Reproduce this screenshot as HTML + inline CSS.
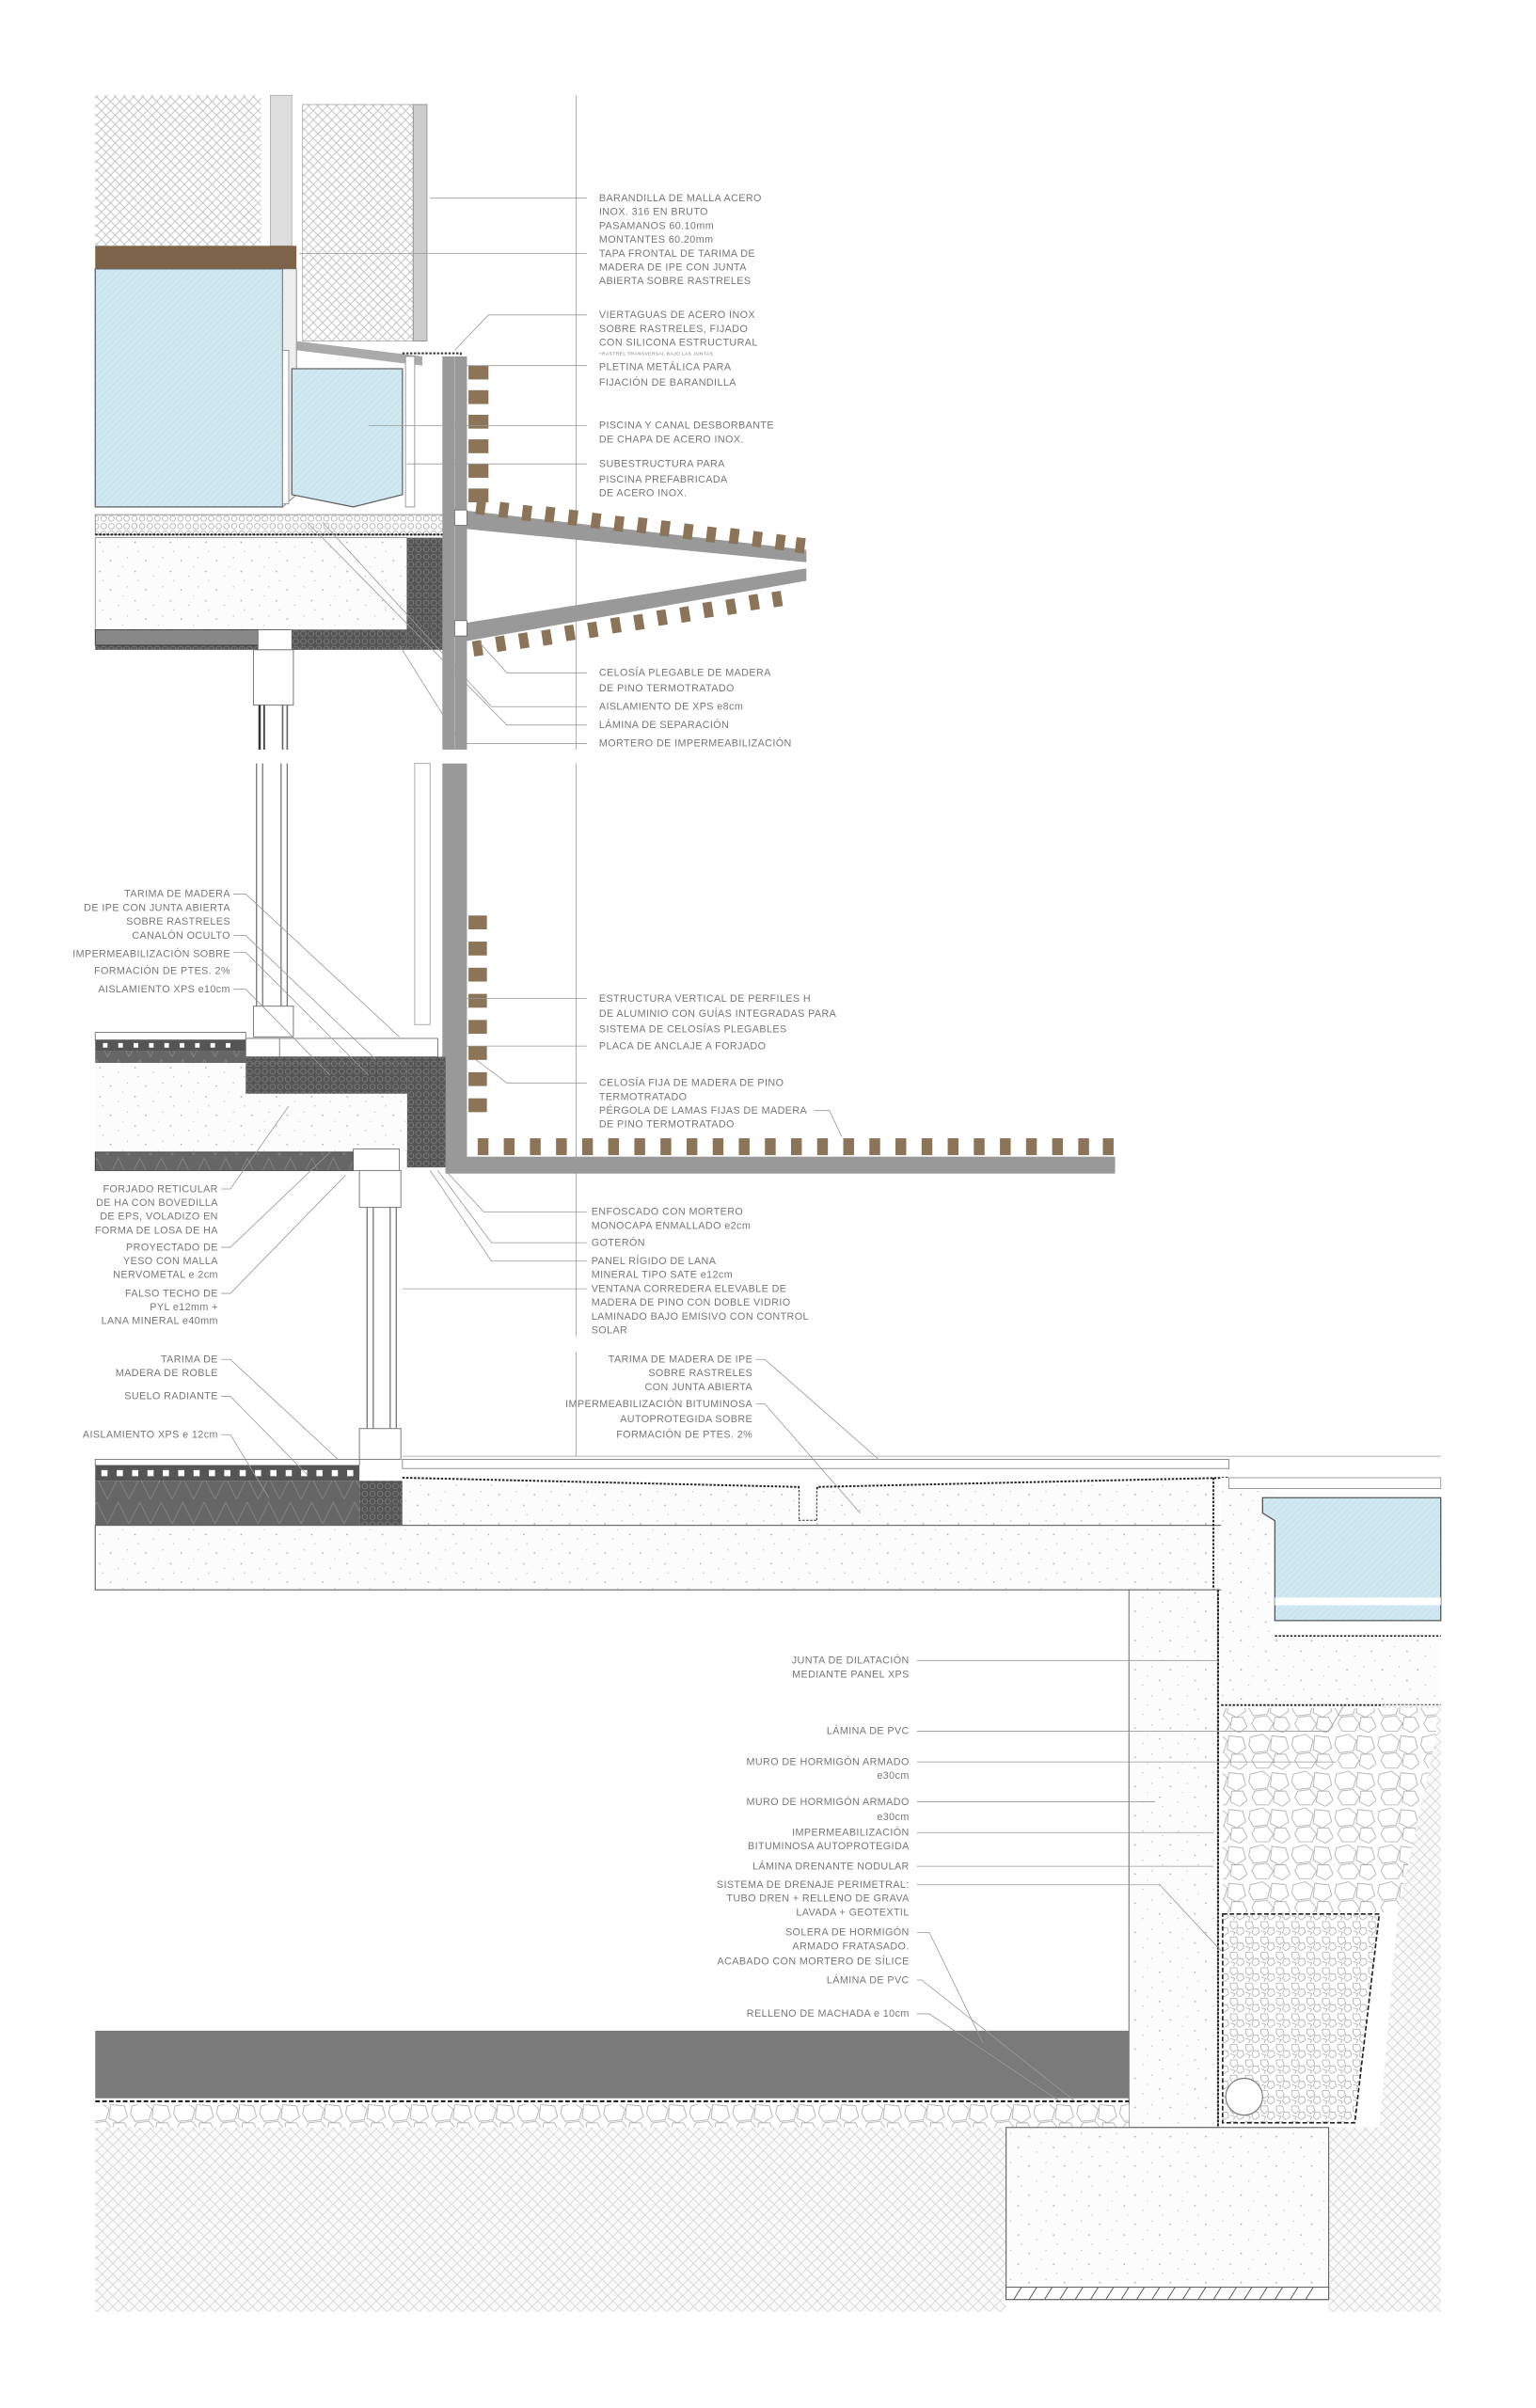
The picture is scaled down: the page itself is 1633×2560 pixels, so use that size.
<!DOCTYPE html>
<html><head><meta charset="utf-8"><style>
html,body{margin:0;padding:0;background:#fff}
svg{display:block}
text{font-family:"Liberation Sans",sans-serif;font-size:6.6px;fill:#777;letter-spacing:.25px}
.e{text-anchor:end}
.l{stroke:#999;stroke-width:.5;fill:none}
</style></head><body>
<svg width="1633" height="2560" viewBox="0 0 1000 1567.6" xmlns="http://www.w3.org/2000/svg">
<defs>
<pattern id="mesh" width="6" height="6" patternUnits="userSpaceOnUse"><rect width="6" height="6" fill="#fff"/><path d="M0 0L6 6M6 0L0 6" stroke="#bbb" stroke-width=".5"/></pattern>
<pattern id="soil" width="7" height="7" patternUnits="userSpaceOnUse"><rect width="7" height="7" fill="#fafafa"/><path d="M0 0L7 7M7 0L0 7" stroke="#ccc" stroke-width=".4"/></pattern>
<pattern id="conc" width="23" height="19" patternUnits="userSpaceOnUse"><rect width="23" height="19" fill="#fcfcfc"/><circle cx="3" cy="4" r=".5" fill="#aaa"/><circle cx="14" cy="2" r=".4" fill="#bbb"/><circle cx="19" cy="11" r=".5" fill="#aaa"/><circle cx="8" cy="14" r=".4" fill="#bbb"/><circle cx="11" cy="8" r=".3" fill="#aaa"/><circle cx="21" cy="17" r=".4" fill="#bbb"/></pattern>
<pattern id="hex" width="5" height="5" patternUnits="userSpaceOnUse"><rect width="5" height="5" fill="#555"/><circle cx="2.5" cy="2.5" r="1.8" fill="none" stroke="#888" stroke-width=".4"/></pattern>
<pattern id="hexl" width="5" height="5" patternUnits="userSpaceOnUse"><rect width="5" height="5" fill="#fff"/><circle cx="2.5" cy="2.5" r="1.8" fill="none" stroke="#999" stroke-width=".4"/></pattern>
<pattern id="water" width="4" height="4" patternUnits="userSpaceOnUse"><rect width="4" height="4" fill="#cfe8f1"/><path d="M0 4L4 0" stroke="#bfdde9" stroke-width=".4"/></pattern>
<pattern id="stone" width="28" height="24" patternUnits="userSpaceOnUse"><rect width="28" height="24" fill="#fff"/><path d="M2 3l8-2 5 4-2 7-9 1-3-5zM16 2l9 1 2 7-6 4-6-3zM5 14l8-1 4 5-3 5-8 0-3-5zM18 14l7 0 3 6-5 4-6-3z" fill="none" stroke="#aaa" stroke-width=".5"/></pattern>
<pattern id="grav" width="10" height="10" patternUnits="userSpaceOnUse"><rect width="10" height="10" fill="#fff"/><path d="M1 1l4 0 1 3-3 2-2-2zM6 5l3 0 1 3-3 2-2-2zM1 7l3 1-1 2" fill="none" stroke="#999" stroke-width=".4"/></pattern>
<pattern id="zig" width="14" height="16" patternUnits="userSpaceOnUse"><rect width="14" height="16" fill="#666"/><path d="M0 16L7 2L14 16" fill="none" stroke="#888" stroke-width=".5"/></pattern>
</defs>

<!-- guide lines -->
<line x1="375" y1="62" x2="375" y2="488" class="l"/>
<line x1="375" y1="497" x2="375" y2="870" class="l"/>
<line x1="375" y1="880" x2="375" y2="948" class="l"/>
<line x1="262" y1="948" x2="938" y2="948" class="l"/>

<!-- top railing meshes -->
<rect x="62" y="62" width="108" height="98" fill="url(#mesh)"/>
<rect x="176" y="62" width="14" height="98" fill="#ddd" stroke="#aaa" stroke-width=".5"/>
<rect x="197" y="68" width="72" height="154" fill="url(#mesh)" stroke="#aaa" stroke-width=".5"/>
<rect x="269" y="68" width="9" height="154" fill="#ccc" stroke="#888" stroke-width=".5"/>
<rect x="62" y="160" width="131" height="15" fill="#7d6448"/>
<!-- pools -->
<rect x="62" y="175" width="122" height="155" fill="url(#water)" stroke="#666" stroke-width=".8"/>
<path d="M184 175L193 175L193 322L184 330Z" fill="#eee" stroke="#777" stroke-width=".5"/>
<path d="M193 222L275 232L275 238L193 228Z" fill="#aaa"/>
<path d="M190 240L262 240L262 322L230 330L190 322Z" fill="url(#water)" stroke="#666" stroke-width=".8"/>
<rect x="184" y="228" width="4" height="100" fill="#fff" stroke="#888" stroke-width=".5"/>
<rect x="264" y="232" width="6" height="98" fill="#fff" stroke="#888" stroke-width=".5"/>
<path d="M262 230L300 230L300 340" fill="none" stroke="#333" stroke-width="1.2" stroke-dasharray="1.5 1"/>
<!-- pool slab -->
<rect x="62" y="335" width="228" height="13" fill="url(#hexl)" stroke="#777" stroke-width=".5"/>
<line x1="62" y1="348" x2="290" y2="348" stroke="#222" stroke-width="1.3" stroke-dasharray="1.5 1"/>
<rect x="62" y="350" width="203" height="60" fill="url(#conc)" stroke="#888" stroke-width=".5"/>
<rect x="265" y="350" width="25" height="73" fill="url(#hex)"/>
<rect x="62" y="410" width="203" height="13" fill="url(#hex)"/>
<rect x="62" y="410" width="125" height="10" fill="#888" stroke="#333" stroke-width=".5"/>
<rect x="168" y="410" width="22" height="13" fill="#fff" stroke="#666" stroke-width=".5"/>
<!-- upper window -->
<rect x="165" y="423" width="26" height="36" fill="#fff" stroke="#777" stroke-width=".6"/>
<line x1="169" y1="459" x2="169" y2="488" stroke="#333" stroke-width="1.5"/>
<line x1="172" y1="459" x2="172" y2="488" stroke="#333" stroke-width="1"/>
<line x1="184" y1="459" x2="184" y2="488" stroke="#666" stroke-width="1"/>
<line x1="187" y1="459" x2="187" y2="488" stroke="#666" stroke-width="1"/>

<!-- main column -->
<rect x="288" y="232" width="16" height="256" fill="#999"/>
<rect x="288" y="497" width="16" height="262" fill="#999"/>
<line x1="296" y1="232" x2="296" y2="488" stroke="#bbb" stroke-width=".4"/>
<!-- vertical slats top -->
<g fill="#8b7458">
<rect x="305" y="238" width="13" height="9"/><rect x="305" y="254" width="13" height="9"/><rect x="305" y="270" width="13" height="9"/><rect x="305" y="286" width="13" height="9"/><rect x="305" y="302" width="13" height="9"/><rect x="305" y="318" width="13" height="9"/>
</g>
<!-- folding louvers -->
<path d="M300 332L525 358L525 366L300 344Z" fill="#999"/>
<path d="M300 406L525 370L525 378L300 418Z" fill="#999"/>
<rect x="296" y="332" width="8" height="10" fill="#fff" stroke="#666" stroke-width=".5"/>
<rect x="296" y="404" width="8" height="10" fill="#fff" stroke="#666" stroke-width=".5"/>
<g fill="#8b7458">
<rect x="310" y="325" width="6" height="10" transform="rotate(7 313 330)"/><rect x="325" y="327" width="6" height="10" transform="rotate(7 328 332)"/><rect x="340" y="329" width="6" height="10" transform="rotate(7 343 334)"/><rect x="355" y="330" width="6" height="10" transform="rotate(7 358 335)"/><rect x="370" y="332" width="6" height="10" transform="rotate(7 373 337)"/><rect x="385" y="334" width="6" height="10" transform="rotate(7 388 339)"/><rect x="400" y="336" width="6" height="10" transform="rotate(7 403 341)"/><rect x="415" y="337" width="6" height="10" transform="rotate(7 418 342)"/><rect x="430" y="339" width="6" height="10" transform="rotate(7 433 344)"/><rect x="445" y="341" width="6" height="10" transform="rotate(7 448 346)"/><rect x="460" y="343" width="6" height="10" transform="rotate(7 463 348)"/><rect x="475" y="344" width="6" height="10" transform="rotate(7 478 349)"/><rect x="490" y="346" width="6" height="10" transform="rotate(7 493 351)"/><rect x="505" y="348" width="6" height="10" transform="rotate(7 508 353)"/><rect x="518" y="350" width="6" height="10" transform="rotate(7 521 355)"/>
<rect x="308" y="417" width="6" height="10" transform="rotate(-9 311 422)"/><rect x="323" y="414" width="6" height="10" transform="rotate(-9 326 419)"/><rect x="338" y="412" width="6" height="10" transform="rotate(-9 341 417)"/><rect x="353" y="410" width="6" height="10" transform="rotate(-9 356 415)"/><rect x="368" y="407" width="6" height="10" transform="rotate(-9 371 412)"/><rect x="383" y="405" width="6" height="10" transform="rotate(-9 386 410)"/><rect x="398" y="402" width="6" height="10" transform="rotate(-9 401 407)"/><rect x="413" y="400" width="6" height="10" transform="rotate(-9 416 405)"/><rect x="428" y="397" width="6" height="10" transform="rotate(-9 431 402)"/><rect x="443" y="395" width="6" height="10" transform="rotate(-9 446 400)"/><rect x="458" y="392" width="6" height="10" transform="rotate(-9 461 397)"/><rect x="473" y="390" width="6" height="10" transform="rotate(-9 476 395)"/><rect x="488" y="387" width="6" height="10" transform="rotate(-9 491 392)"/><rect x="503" y="385" width="6" height="10" transform="rotate(-9 506 390)"/>
</g>

<!-- middle window -->
<line x1="167" y1="497" x2="167" y2="660" stroke="#777" stroke-width=".8"/>
<line x1="171" y1="497" x2="171" y2="660" stroke="#777" stroke-width=".8"/>
<line x1="183" y1="497" x2="183" y2="660" stroke="#777" stroke-width=".8"/>
<line x1="187" y1="497" x2="187" y2="660" stroke="#777" stroke-width=".8"/>
<rect x="270" y="497" width="10" height="170" fill="#fff" stroke="#999" stroke-width=".5"/>
<rect x="165" y="655" width="26" height="20" fill="#fff" stroke="#777" stroke-width=".6"/>
<!-- middle slab -->
<rect x="62" y="672" width="98" height="5" fill="#fff" stroke="#666" stroke-width=".5"/>
<rect x="62" y="677" width="98" height="7" fill="#555"/>
<g fill="#fff"><rect x="67" y="679" width="3" height="3"/><rect x="77" y="679" width="3" height="3"/><rect x="87" y="679" width="3" height="3"/><rect x="97" y="679" width="3" height="3"/><rect x="107" y="679" width="3" height="3"/><rect x="117" y="679" width="3" height="3"/><rect x="127" y="679" width="3" height="3"/><rect x="137" y="679" width="3" height="3"/><rect x="147" y="679" width="3" height="3"/></g>
<rect x="62" y="684" width="98" height="8" fill="url(#zig)"/>
<rect x="160" y="676" width="125" height="12" fill="#fff" stroke="#666" stroke-width=".5"/>
<rect x="160" y="676" width="22" height="12" fill="#fff" stroke="#666" stroke-width=".5"/>
<rect x="160" y="688" width="130" height="24" fill="url(#hex)"/>
<rect x="265" y="688" width="25" height="72" fill="url(#hex)"/>
<rect x="62" y="692" width="203" height="58" fill="url(#conc)"/>
<rect x="160" y="692" width="105" height="20" fill="url(#hex)"/>
<rect x="62" y="750" width="168" height="12" fill="url(#zig)" stroke="#333" stroke-width=".5"/>
<rect x="230" y="748" width="30" height="14" fill="#fff" stroke="#666" stroke-width=".5"/>
<!-- mid slats -->
<g fill="#8b7458">
<rect x="305" y="596" width="12" height="9"/><rect x="305" y="613" width="12" height="9"/><rect x="305" y="630" width="12" height="9"/><rect x="305" y="647" width="12" height="9"/><rect x="305" y="664" width="12" height="9"/><rect x="305" y="681" width="12" height="9"/><rect x="305" y="698" width="12" height="9"/><rect x="305" y="715" width="12" height="9"/>
</g>
<!-- pergola -->
<rect x="290" y="753" width="436" height="11" fill="#999"/>
<g fill="#8b7458">
<rect x="311" y="741" width="7" height="11"/><rect x="328" y="741" width="7" height="11"/><rect x="345" y="741" width="7" height="11"/><rect x="362" y="741" width="7" height="11"/><rect x="379" y="741" width="7" height="11"/><rect x="396" y="741" width="7" height="11"/><rect x="413" y="741" width="7" height="11"/><rect x="430" y="741" width="7" height="11"/><rect x="447" y="741" width="7" height="11"/><rect x="464" y="741" width="7" height="11"/><rect x="481" y="741" width="7" height="11"/><rect x="498" y="741" width="7" height="11"/><rect x="515" y="741" width="7" height="11"/><rect x="532" y="741" width="7" height="11"/><rect x="549" y="741" width="7" height="11"/><rect x="566" y="741" width="7" height="11"/><rect x="583" y="741" width="7" height="11"/><rect x="600" y="741" width="7" height="11"/><rect x="617" y="741" width="7" height="11"/><rect x="634" y="741" width="7" height="11"/><rect x="651" y="741" width="7" height="11"/><rect x="668" y="741" width="7" height="11"/><rect x="685" y="741" width="7" height="11"/><rect x="702" y="741" width="7" height="11"/><rect x="718" y="741" width="7" height="11"/>
</g>
<!-- lower window -->
<rect x="234" y="762" width="27" height="24" fill="#fff" stroke="#777" stroke-width=".6"/>
<line x1="239" y1="786" x2="239" y2="930" stroke="#777" stroke-width=".8"/>
<line x1="243" y1="786" x2="243" y2="930" stroke="#777" stroke-width=".8"/>
<line x1="254" y1="786" x2="254" y2="930" stroke="#777" stroke-width=".8"/>
<line x1="258" y1="786" x2="258" y2="930" stroke="#777" stroke-width=".8"/>
<rect x="234" y="930" width="27" height="20" fill="#fff" stroke="#777" stroke-width=".6"/>

<!-- ground floor -->
<rect x="62" y="950" width="172" height="4" fill="#fff" stroke="#666" stroke-width=".5"/>
<rect x="62" y="954" width="172" height="10" fill="#555"/>
<g fill="#fff"><rect x="66" y="957" width="4" height="4"/><rect x="76" y="957" width="4" height="4"/><rect x="86" y="957" width="4" height="4"/><rect x="96" y="957" width="4" height="4"/><rect x="106" y="957" width="4" height="4"/><rect x="116" y="957" width="4" height="4"/><rect x="126" y="957" width="4" height="4"/><rect x="136" y="957" width="4" height="4"/><rect x="146" y="957" width="4" height="4"/><rect x="156" y="957" width="4" height="4"/><rect x="166" y="957" width="4" height="4"/><rect x="176" y="957" width="4" height="4"/><rect x="186" y="957" width="4" height="4"/><rect x="196" y="957" width="4" height="4"/><rect x="206" y="957" width="4" height="4"/><rect x="216" y="957" width="4" height="4"/><rect x="226" y="957" width="4" height="4"/></g>
<rect x="62" y="964" width="172" height="29" fill="url(#zig)"/>
<rect x="234" y="964" width="28" height="29" fill="url(#hex)"/>
<rect x="262" y="950" width="538" height="6" fill="#fff" stroke="#777" stroke-width=".5"/>
<path d="M262 962L520 968L520 990L532 990L532 968L800 962" fill="none" stroke="#222" stroke-width="1.2" stroke-dasharray="1.5 1"/>
<path d="M262 964L520 970L520 990L532 990L532 970L790 964L790 993L262 993Z" fill="url(#conc)"/>
<rect x="62" y="993" width="738" height="42" fill="url(#conc)" stroke="#666" stroke-width=".7"/>
<!-- right pool -->
<path d="M790 962L790 1110" stroke="#222" stroke-width="1.2" stroke-dasharray="1.5 1" fill="none"/>
<rect x="795" y="962" width="35" height="148" fill="url(#conc)"/>
<rect x="800" y="962" width="138" height="7" fill="#fff" stroke="#888" stroke-width=".5"/>
<path d="M830 975L938 975L938 1055L830 1055L830 990L822 985L822 975Z" fill="url(#water)" stroke="#555" stroke-width=".8"/>
<rect x="830" y="1040" width="108" height="5" fill="#fff"/>
<line x1="830" y1="1065" x2="938" y2="1065" stroke="#222" stroke-width="1" stroke-dasharray="1.5 1"/>
<rect x="795" y="1066" width="143" height="44" fill="url(#conc)"/>
<line x1="795" y1="1110" x2="938" y2="1110" stroke="#222" stroke-width="1.2" stroke-dasharray="1.5 1"/>
<!-- wall -->
<rect x="735" y="1035" width="58" height="350" fill="url(#conc)" stroke="#666" stroke-width=".6"/>
<line x1="793" y1="1035" x2="793" y2="1385" stroke="#222" stroke-width="1.3" stroke-dasharray="1.5 1"/>
<!-- soil right & gravel -->
<path d="M900 1110L938 1110L938 1505L865 1505L865 1385L898 1385L910 1245Z" fill="url(#soil)"/>
<path d="M796 1112L935 1112L935 1130L910 1245L796 1245Z" fill="url(#stone)"/>
<path d="M796 1246L898 1246L882 1382L796 1382Z" fill="url(#grav)" stroke="#222" stroke-width="1" stroke-dasharray="3 1.5"/>
<circle cx="810" cy="1365" r="12" fill="#fff" stroke="#777" stroke-width=".7"/>
<!-- dark slab -->
<rect x="62" y="1322" width="673" height="44" fill="#7a7a7a"/>
<line x1="62" y1="1368" x2="735" y2="1368" stroke="#222" stroke-width="1.3" stroke-dasharray="3 1.5"/>
<rect x="62" y="1370" width="673" height="15" fill="url(#stone)"/>
<rect x="62" y="1385" width="593" height="120" fill="url(#soil)"/>
<rect x="655" y="1385" width="210" height="112" fill="url(#conc)" stroke="#666" stroke-width=".7"/>
<rect x="655" y="1489" width="210" height="8" fill="#fff" stroke="#555" stroke-width=".6"/>
<path d="M660 1497l5-8M670 1497l5-8M680 1497l5-8M690 1497l5-8M700 1497l5-8M710 1497l5-8M720 1497l5-8M730 1497l5-8M740 1497l5-8M750 1497l5-8M760 1497l5-8M770 1497l5-8M780 1497l5-8M790 1497l5-8M800 1497l5-8M810 1497l5-8M820 1497l5-8M830 1497l5-8M840 1497l5-8M850 1497l5-8" stroke="#555" stroke-width=".6"/>

<!-- leaders -->
<g class="l">
<path d="M280 129H382"/><path d="M195 165H382"/><path d="M296 228L318 205H382"/><path d="M300 238H382"/><path d="M240 277H382"/><path d="M265 302H382"/>
<path d="M312 418L330 438H382"/><path d="M210 340L320 460H382"/><path d="M200 340L330 472H382"/><path d="M260 420L300 484H382"/>
<path d="M295 650H382"/><path d="M290 681H382"/><path d="M310 690L330 705H382"/><path d="M530 723H540L548 740"/>
<path d="M290 762L315 789H382"/><path d="M285 762L320 809H382"/><path d="M280 762L320 821H382"/><path d="M262 839H382"/>
<path d="M492 885H498L572 950"/><path d="M492 914H498L560 985"/>
<path d="M152 582H160L260 675"/><path d="M152 609H160L245 690"/><path d="M152 620H160L240 700"/><path d="M152 644H160L215 700"/>
<path d="M144 774H150L188 720"/><path d="M144 812H150L215 750"/><path d="M144 842H150L225 765"/>
<path d="M144 885H150L220 950"/><path d="M144 909H150L200 960"/><path d="M144 934H150L175 975"/>
<path d="M597 1081H793"/><path d="M597 1127H865L875 1110"/><path d="M597 1147H870"/><path d="M597 1173H752"/><path d="M597 1193H790"/><path d="M597 1215H790"/><path d="M597 1227H755L795 1270"/><path d="M597 1258H605L640 1330"/><path d="M597 1289H600L700 1368"/><path d="M597 1311H605L690 1368"/>
</g>

<!-- labels right column -->
<text x="390" y="131">BARANDILLA DE MALLA ACERO</text>
<text x="390" y="140">INOX. 316 EN BRUTO</text>
<text x="390" y="149">PASAMANOS 60.10mm</text>
<text x="390" y="158">MONTANTES 60.20mm</text>
<text x="390" y="167">TAPA FRONTAL DE TARIMA DE</text>
<text x="390" y="176">MADERA DE IPE CON JUNTA</text>
<text x="390" y="185">ABIERTA SOBRE RASTRELES</text>
<text x="390" y="207">VIERTAGUAS DE ACERO INOX</text>
<text x="390" y="216">SOBRE RASTRELES, FIJADO</text>
<text x="390" y="225">CON SILICONA ESTRUCTURAL</text>
<text x="390" y="231" style="font-size:3px">+RASTREL TRANSVERSAL BAJO LAS JUNTAS</text>
<text x="390" y="241">PLETINA METÁLICA PARA</text>
<text x="390" y="251">FIJACIÓN DE BARANDILLA</text>
<text x="390" y="279">PISCINA Y CANAL DESBORBANTE</text>
<text x="390" y="288">DE CHAPA DE ACERO INOX.</text>
<text x="390" y="304">SUBESTRUCTURA PARA</text>
<text x="390" y="314">PISCINA PREFABRICADA</text>
<text x="390" y="323">DE ACERO INOX.</text>
<text x="390" y="440">CELOSÍA  PLEGABLE DE MADERA</text>
<text x="390" y="450">DE PINO TERMOTRATADO</text>
<text x="390" y="462">AISLAMIENTO DE XPS e8cm</text>
<text x="390" y="474">LÁMINA DE SEPARACIÓN</text>
<text x="390" y="486">MORTERO DE IMPERMEABILIZACIÓN</text>
<text x="390" y="652">ESTRUCTURA VERTICAL DE PERFILES H</text>
<text x="390" y="662">DE ALUMINIO  CON GUÍAS INTEGRADAS PARA</text>
<text x="390" y="672">SISTEMA DE CELOSÍAS PLEGABLES</text>
<text x="390" y="683">PLACA DE ANCLAJE A FORJADO</text>
<text x="390" y="707">CELOSÍA FIJA DE MADERA DE PINO</text>
<text x="390" y="716">TERMOTRATADO</text>
<text x="390" y="725">PÉRGOLA DE LAMAS FIJAS DE MADERA</text>
<text x="390" y="734">DE PINO TERMOTRATADO</text>
<text x="385" y="791">ENFOSCADO CON MORTERO</text>
<text x="385" y="800">MONOCAPA ENMALLADO e2cm</text>
<text x="385" y="811">GOTERÓN</text>
<text x="385" y="823">PANEL RÍGIDO DE LANA</text>
<text x="385" y="832">MINERAL TIPO SATE e12cm</text>
<text x="385" y="841">VENTANA CORREDERA ELEVABLE  DE</text>
<text x="385" y="850">MADERA DE PINO CON DOBLE VIDRIO</text>
<text x="385" y="859">LAMINADO BAJO EMISIVO CON CONTROL</text>
<text x="385" y="868">SOLAR</text>
<text class="e" x="490" y="887">TARIMA DE MADERA DE IPE</text>
<text class="e" x="490" y="896">SOBRE RASTRELES</text>
<text class="e" x="490" y="905">CON JUNTA ABIERTA</text>
<text class="e" x="490" y="916">IMPERMEABILIZACIÓN BITUMINOSA</text>
<text class="e" x="490" y="926">AUTOPROTEGIDA SOBRE</text>
<text class="e" x="490" y="936">FORMACIÓN DE PTES. 2%</text>
<!-- left labels -->
<text class="e" x="150" y="584">TARIMA DE MADERA</text>
<text class="e" x="150" y="593">DE IPE CON JUNTA ABIERTA</text>
<text class="e" x="150" y="602">SOBRE RASTRELES</text>
<text class="e" x="150" y="611">CANALÓN OCULTO</text>
<text class="e" x="150" y="623">IMPERMEABILIZACIÓN SOBRE</text>
<text class="e" x="150" y="634">FORMACIÓN DE PTES. 2%</text>
<text class="e" x="150" y="646">AISLAMIENTO XPS e10cm</text>
<text class="e" x="142" y="776">FORJADO RETICULAR</text>
<text class="e" x="142" y="785">DE HA CON BOVEDILLA</text>
<text class="e" x="142" y="794">DE EPS, VOLADIZO EN</text>
<text class="e" x="142" y="803">FORMA DE LOSA DE HA</text>
<text class="e" x="142" y="814">PROYECTADO DE</text>
<text class="e" x="142" y="823">YESO CON  MALLA</text>
<text class="e" x="142" y="832">NERVOMETAL e 2cm</text>
<text class="e" x="142" y="844">FALSO TECHO DE</text>
<text class="e" x="142" y="853">PYL e12mm +</text>
<text class="e" x="142" y="862">LANA MINERAL e40mm</text>
<text class="e" x="142" y="887">TARIMA DE</text>
<text class="e" x="142" y="896">MADERA DE ROBLE</text>
<text class="e" x="142" y="911">SUELO RADIANTE</text>
<text class="e" x="142" y="936">AISLAMIENTO XPS e 12cm</text>
<!-- bottom labels -->
<text class="e" x="592" y="1083">JUNTA DE DILATACIÓN</text>
<text class="e" x="592" y="1092">MEDIANTE PANEL XPS</text>
<text class="e" x="592" y="1129">LÁMINA DE PVC</text>
<text class="e" x="592" y="1149">MURO DE HORMIGÓN ARMADO</text>
<text class="e" x="592" y="1158">e30cm</text>
<text class="e" x="592" y="1175">MURO DE HORMIGÓN ARMADO</text>
<text class="e" x="592" y="1185">e30cm</text>
<text class="e" x="592" y="1195">IMPERMEABILIZACIÓN</text>
<text class="e" x="592" y="1204">BITUMINOSA AUTOPROTEGIDA</text>
<text class="e" x="592" y="1217">LÁMINA DRENANTE NODULAR</text>
<text class="e" x="592" y="1229">SISTEMA DE DRENAJE PERIMETRAL:</text>
<text class="e" x="592" y="1238">TUBO DREN + RELLENO DE GRAVA</text>
<text class="e" x="592" y="1247">LAVADA + GEOTEXTIL</text>
<text class="e" x="592" y="1260">SOLERA DE HORMIGÓN</text>
<text class="e" x="592" y="1269">ARMADO FRATASADO.</text>
<text class="e" x="592" y="1279">ACABADO CON MORTERO DE SÍLICE</text>
<text class="e" x="592" y="1291">LÁMINA DE PVC</text>
<text class="e" x="592" y="1313">RELLENO DE MACHADA e 10cm</text>
</svg>
</body></html>
